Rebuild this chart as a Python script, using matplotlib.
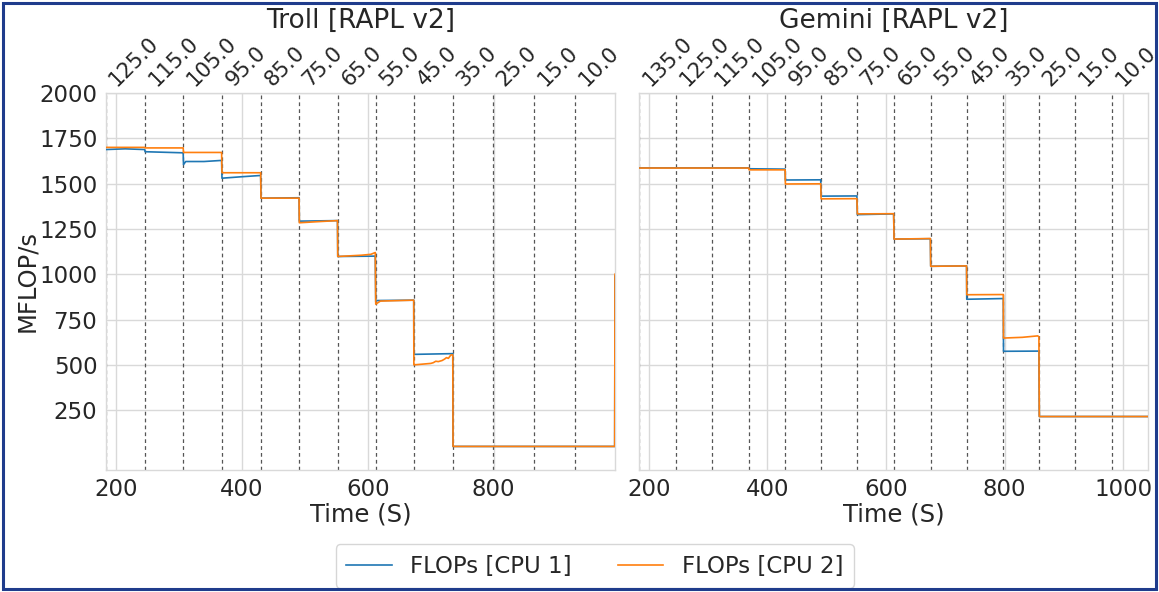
import matplotlib
matplotlib.use("Agg")
import matplotlib.pyplot as plt
from matplotlib.lines import Line2D
from matplotlib.patches import Rectangle

# ---------------- data ----------------
# Troll [RAPL v2]
troll_caps = ["125.0", "115.0", "105.0", "95.0", "85.0", "75.0", "65.0",
              "55.0", "45.0", "35.0", "25.0", "15.0", "10.0"]
troll_cap_times = [184, 246.5, 307.5, 368.6, 430.5, 491.4, 552.4, 612.7,
                   673.2, 735.4, 799.0, 864.0, 929.0]
troll_xlim = (184, 992.5)

troll_cpu1_t = [184, 215, 246, 246.5, 307, 307.5, 311, 340, 368, 368.6, 400, 430,
                430.5, 491, 491.4, 552, 552.4, 612, 612.7, 615, 673, 673.2,
                735, 735.4, 992, 992.5]
troll_cpu1_v = [1688, 1692, 1688, 1676, 1670, 1605, 1622, 1622, 1628, 1530, 1538, 1545,
                1420, 1422, 1293, 1296, 1098, 1100, 848, 855, 857, 558,
                562, 50, 50, 990]

troll_cpu2_t = [184, 246, 246.5, 307, 307.5, 368, 368.6, 430, 430.5, 491, 491.4, 520,
                552, 552.4, 590, 605, 612, 612.7, 620, 673, 673.2, 690, 700, 704,
                708, 712, 718, 722, 725, 728, 732, 735, 735.4, 992, 992.5]
troll_cpu2_v = [1700, 1700, 1697, 1697, 1672, 1672, 1560, 1560, 1420, 1420, 1284, 1290,
                1296, 1098, 1105, 1110, 1120, 835, 852, 857, 500, 505, 508, 512,
                520, 518, 524, 532, 540, 536, 555, 555, 50, 50, 1000]

# Gemini [RAPL v2]
gemini_caps = ["135.0", "125.0", "115.0", "105.0", "95.0", "85.0", "75.0",
               "65.0", "55.0", "45.0", "35.0", "25.0", "15.0", "10.0"]
gemini_cap_times = [184, 246.0, 306.2, 369.1, 430.4, 490.6, 551.8, 613.7,
                    675.5, 736.3, 798.0, 858.7, 919.4, 981.8]
gemini_xlim = (184, 1042.5)

gemini_cpu1_t = [184, 369, 369.1, 430, 430.4, 490, 490.6, 551, 551.8, 613, 613.7,
                 675, 675.5, 736, 736.3, 798, 798.3, 858, 858.7, 1042.5]
gemini_cpu1_v = [1587, 1587, 1582, 1580, 1520, 1521, 1431, 1432, 1329, 1333, 1194,
                 1196, 1044, 1046, 862, 866, 575, 576, 215, 215]

gemini_cpu2_t = [184, 369, 369.1, 430, 430.4, 490, 490.6, 551, 551.8, 613, 613.7,
                 675, 675.5, 736, 736.3, 798, 798.3, 830, 856, 858, 858.7, 1042.5]
gemini_cpu2_v = [1586, 1586, 1576, 1576, 1498, 1499, 1416, 1417, 1333, 1334, 1194,
                 1197, 1044, 1046, 887, 888, 648, 652, 660, 655, 215, 215]

y_ticks = [250, 500, 750, 1000, 1250, 1500, 1750, 2000]
x_ticks_troll = [200, 400, 600, 800]
x_ticks_gemini = [200, 400, 600, 800, 1000]
series_labels = ["FLOPs [CPU 1]", "FLOPs [CPU 2]"]
titles = ["Troll [RAPL v2]", "Gemini [RAPL v2]"]

# ---------------- style ----------------
W, H = 1159, 592
DPI = 100
TEXT = "#262626"
GRID = "#d9d9d9"
C1, C2 = "#1f77b4", "#ff7f0e"

plt.rcParams["font.family"] = ["DejaVu Sans"]
fig = plt.figure(figsize=(W / DPI, H / DPI), dpi=DPI)
fig.patch.set_facecolor("white")

def px_ax(x0, y0, x1, y1):
    return [x0 / W, 1 - y1 / H, (x1 - x0) / W, (y1 - y0) / H]

ax1 = fig.add_axes(px_ax(105.7, 93, 615, 470))
ax2 = fig.add_axes(px_ax(639.3, 93, 1148.3, 470))

panels = [
    (ax1, troll_cpu1_t, troll_cpu1_v, troll_cpu2_t, troll_cpu2_v, troll_cap_times,
     troll_caps, troll_xlim, x_ticks_troll, titles[0]),
    (ax2, gemini_cpu1_t, gemini_cpu1_v, gemini_cpu2_t, gemini_cpu2_v, gemini_cap_times,
     gemini_caps, gemini_xlim, x_ticks_gemini, titles[1]),
]

for i, (ax, t1, v1, t2, v2, ctimes, caps, xl, xt, title) in enumerate(panels):
    ax.set_facecolor("white")
    ax.plot(t1, v1, color=C1, lw=1.2, zorder=3)
    ax.plot(t2, v2, color=C2, lw=1.2, zorder=3)
    for ct in ctimes:
        ax.axvline(ct, color="#555555", lw=0.9, ls=(0, (3, 2.5)), zorder=2)
    ax.set_xlim(*xl)
    ax.set_ylim(-80, 2000)
    ax.set_xticks(xt)
    ax.set_yticks(y_ticks)
    ax.grid(True, color=GRID, lw=1.0, zorder=0)
    ax.set_axisbelow(True)
    for s in ax.spines.values():
        s.set_color(GRID)
        s.set_linewidth(1.0)
    ax.tick_params(axis="both", length=0, labelsize=16.5, colors=TEXT, pad=6)
    if i == 1:
        ax.tick_params(axis="y", labelleft=False)
    ax.set_xlabel("Time (S)", fontsize=17.5, color=TEXT)
    ax.xaxis.set_label_coords(0.5, -0.085)
    ax.xaxis.label.set_va("top")

    top = ax.twiny()
    top.set_xlim(*xl)
    top.set_xticks(ctimes)
    top.set_xticklabels(caps, rotation=45, ha="left", fontsize=15.2, color=TEXT)
    top.tick_params(axis="x", length=0, pad=2)
    top.grid(False)
    for s in top.spines.values():
        s.set_visible(False)

    pos = ax.get_position()
    fig.text(pos.x0 + pos.width / 2, 1 - 21 / H, title, ha="center", va="center",
             fontsize=19, color=TEXT)

fig.text(27 / W, 1 - 281 / H, "MFLOP/s", rotation=90, ha="center", va="center",
         fontsize=17.5, color=TEXT)

handles = [Line2D([], [], color=C1, lw=1.2), Line2D([], [], color=C2, lw=1.2)]
leg = fig.legend(handles, series_labels, loc="lower center", ncol=2,
                 bbox_to_anchor=(0.513, 4 / H), borderaxespad=0, fontsize=16.5,
                 frameon=True, fancybox=True, columnspacing=2.0, handlelength=2.0,
                 borderpad=0.45)
leg.get_frame().set_edgecolor("#cccccc")
for txt in leg.get_texts():
    txt.set_color(TEXT)

fig.add_artist(Rectangle((3 / W, 3 / H), 1 - 6 / W, 1 - 6 / H, transform=fig.transFigure,
                         fill=False, edgecolor="#1f3c8c", lw=2.2, zorder=10))

fig.savefig("out.png", dpi=DPI, facecolor="white")
